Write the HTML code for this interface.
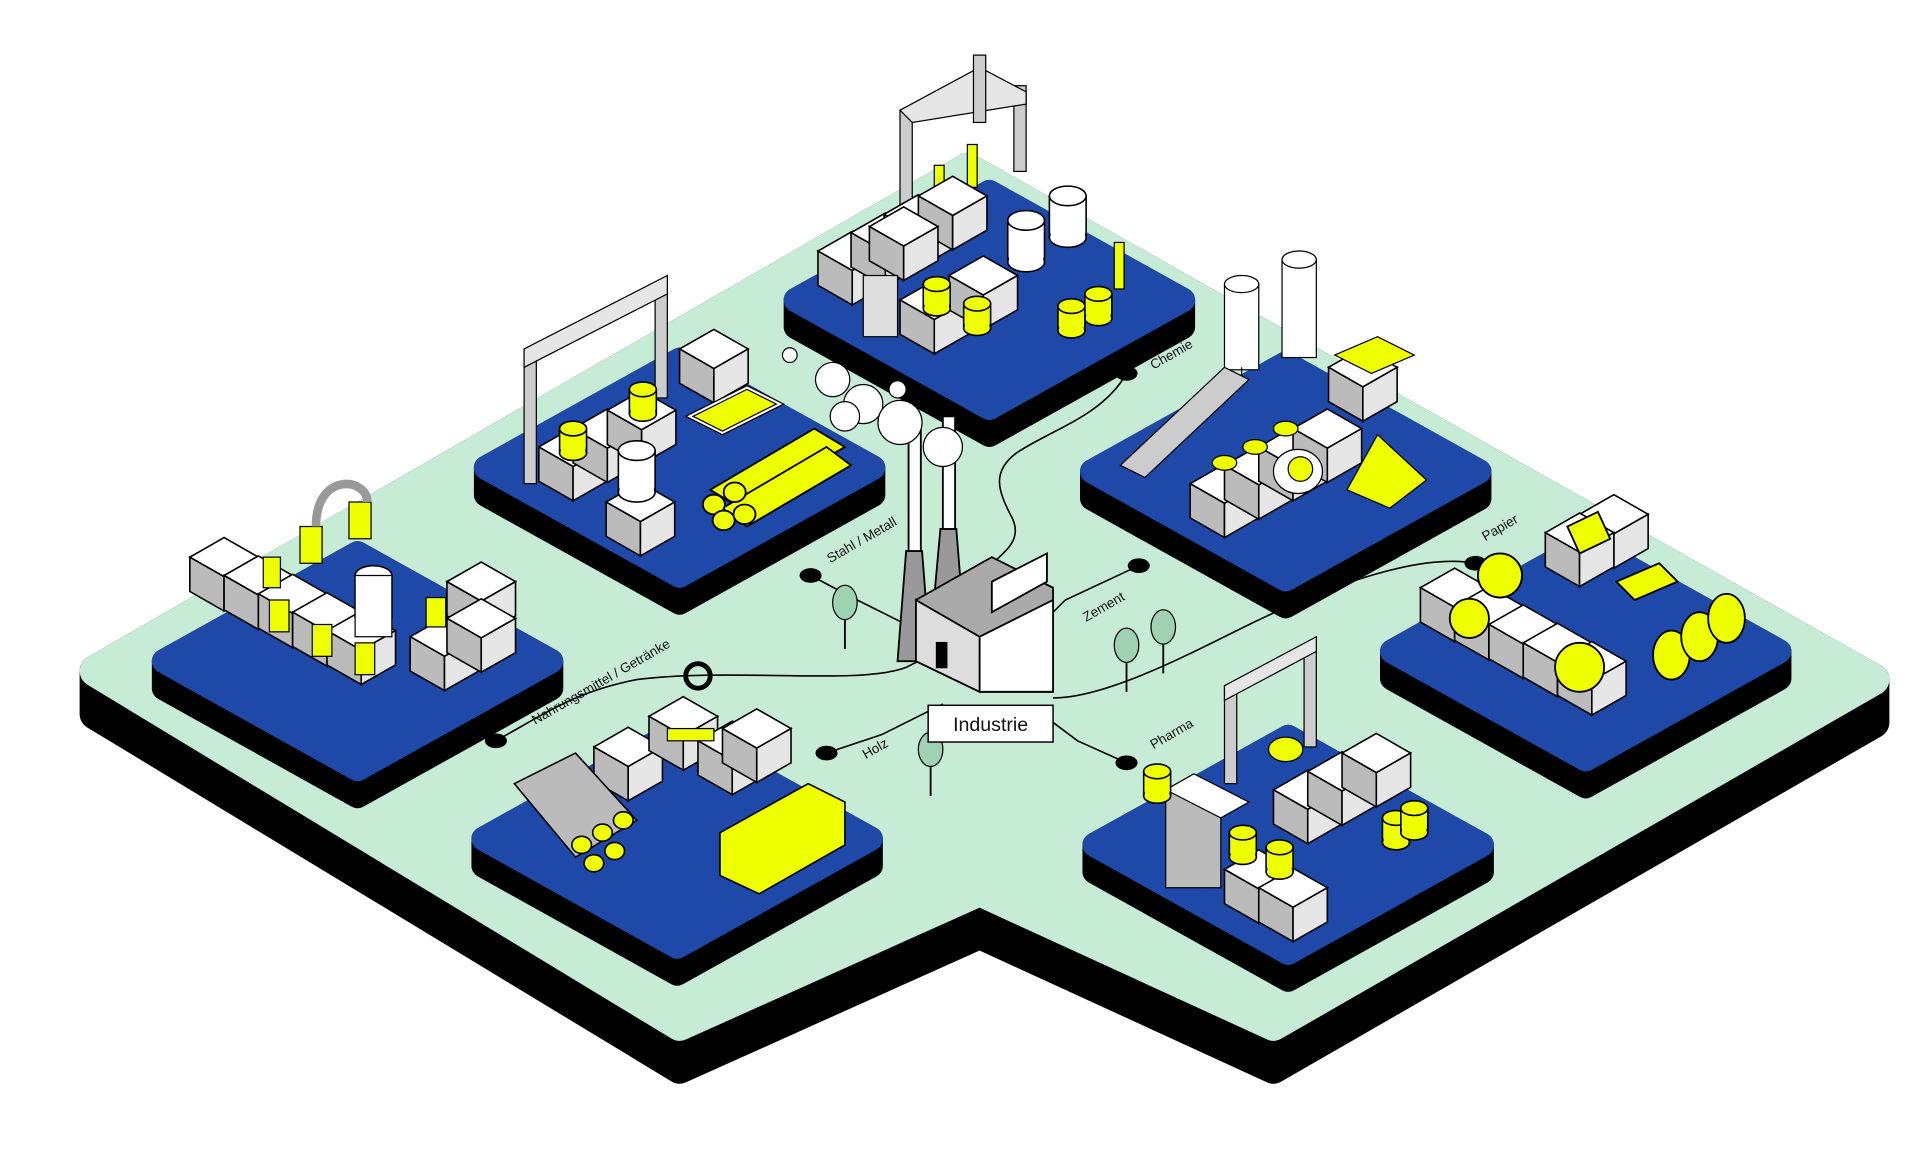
<!DOCTYPE html>
<html><head><meta charset="utf-8"><style>
html,body{margin:0;padding:0;background:#fff;width:1920px;height:1169px;overflow:hidden}
svg{display:block}
text{font-family:"Liberation Sans",sans-serif;fill:#111}
</style></head><body>
<svg width="1920" height="1169" viewBox="0 0 1568 954.7" xmlns="http://www.w3.org/2000/svg">
<defs>
<g id="tile">
 <polygon points="-158,0 0,-88 158,0 158,22 0,110 -158,22" fill="#000" stroke="#000" stroke-width="20" stroke-linejoin="round"/>
 <polygon points="-158,0 0,-88 158,0 0,88" fill="#1f49a8" stroke="#1f49a8" stroke-width="20" stroke-linejoin="round"/>
</g>
<g id="box">
 <polygon points="0,0 28,-16 56,0 28,16" fill="#fff" stroke="#000" stroke-width="1.3"/>
 <polygon points="0,0 28,16 28,44 0,28" fill="#bbb" stroke="#000" stroke-width="1.3"/>
 <polygon points="28,16 56,0 56,28 28,44" fill="#e6e6e6" stroke="#000" stroke-width="1.3"/>
</g>
<g id="cyl">
 <rect x="-15" y="0" width="30" height="34" fill="#fff" stroke="#000" stroke-width="1.3"/>
 <ellipse cx="0" cy="34" rx="15" ry="8" fill="#fff" stroke="#000" stroke-width="1.3"/>
 <rect x="-14" y="0" width="28" height="34" fill="#fff"/>
 <ellipse cx="0" cy="0" rx="15" ry="8" fill="#fff" stroke="#000" stroke-width="1.3"/>
</g>
<g id="ycyl">
 <rect x="-11" y="0" width="22" height="20" fill="#eeff00" stroke="#000" stroke-width="1.3"/>
 <ellipse cx="0" cy="20" rx="11" ry="6" fill="#eeff00" stroke="#000" stroke-width="1.3"/>
 <rect x="-10" y="0" width="20" height="20" fill="#eeff00"/>
 <ellipse cx="0" cy="0" rx="11" ry="6" fill="#eeff00" stroke="#000" stroke-width="1.3"/>
</g>
<g id="tree">
 <line x1="0" y1="0" x2="0" y2="30" stroke="#000" stroke-width="1.5"/>
 <ellipse cx="0" cy="-8" rx="10" ry="14" fill="#9fd2b0" stroke="#000" stroke-width="1"/>
</g>
</defs>

<!-- platform -->
<polygon points="78,548 790,138 1530,555 1530,590 1040,872 800,762 555,872 78,583" fill="#000" stroke="#000" stroke-width="26" stroke-linejoin="round"/>
<polygon points="78,548 790,138 1530,555 1040,837 800,727 555,837" fill="#c6ecd6" stroke="#c6ecd6" stroke-width="26" stroke-linejoin="round"/>

<!-- paths -->
<g fill="none" stroke="#000" stroke-width="1.3">
<path d="M920,305 C900,340 860,350 830,370 C810,385 815,400 825,420 C840,445 810,455 808,465"/>
<path d="M662,470 L700,490 L740,510"/>
<path d="M405,605 C450,580 470,565 520,555 C600,545 700,560 740,545 L760,535"/>
<path d="M675,615 L720,600 L770,575"/>
<path d="M920,623 L880,605 L860,590"/>
<path d="M930,462 L870,490 L855,505"/>
<path d="M1205,460 C1150,450 1060,490 1010,515 C960,540 900,570 860,570"/>
</g>
<g fill="#000">
<ellipse cx="920" cy="305" rx="9" ry="6"/><ellipse cx="662" cy="470" rx="9" ry="6"/>
<ellipse cx="405" cy="605" rx="9" ry="6"/><ellipse cx="675" cy="615" rx="9" ry="6"/>
<ellipse cx="920" cy="623" rx="9" ry="6"/><ellipse cx="930" cy="462" rx="9" ry="6"/>
<ellipse cx="1205" cy="460" rx="9" ry="6"/>
</g>

<!-- tiles -->
<use href="#tile" x="808" y="245"/>
<use href="#tile" x="555" y="382"/>
<use href="#tile" x="292" y="540"/>
<use href="#tile" x="1050" y="385"/>
<use href="#tile" x="1295" y="532"/>
<use href="#tile" x="553" y="685"/>
<use href="#tile" x="1052" y="690"/>

<!-- Chemie -->
<g>
<rect x="735" y="90" width="10" height="80" fill="#ccc" stroke="#000"/>
<rect x="828" y="70" width="10" height="70" fill="#ccc" stroke="#000"/>
<polygon points="735,90 800,55 838,75 838,85 745,100" fill="#e6e6e6" stroke="#000"/>
<rect x="795" y="45" width="10" height="55" fill="#ccc" stroke="#000"/>
<rect x="763" y="135" width="8" height="35" fill="#eeff00" stroke="#000"/><rect x="790" y="118" width="8" height="35" fill="#eeff00" stroke="#000"/>
<use href="#box" x="668" y="205"/><use href="#box" x="695" y="190"/><use href="#box" x="722" y="175"/><use href="#box" x="750" y="160"/>
<use href="#box" x="710" y="185"/>
<use href="#box" x="735" y="245"/><use href="#box" x="775" y="225"/>
<rect x="705" y="225" width="28" height="50" fill="#ddd" stroke="#000"/>
<use href="#cyl" x="838" y="180"/><use href="#cyl" x="872" y="160"/>
<use href="#ycyl" x="765" y="232"/><use href="#ycyl" x="798" y="248"/><use href="#ycyl" x="875" y="250"/><use href="#ycyl" x="897" y="240"/>
<rect x="910" y="198" width="8" height="38" fill="#eeff00" stroke="#000"/>
</g>
<!-- Stahl -->
<g>
<rect x="428" y="285" width="10" height="110" fill="#ccc" stroke="#000"/>
<rect x="535" y="235" width="10" height="90" fill="#ccc" stroke="#000"/>
<polygon points="428,285 545,225 545,240 428,300" fill="#e6e6e6" stroke="#000"/>
<use href="#box" x="440" y="365"/><use href="#box" x="468" y="350"/><use href="#box" x="496" y="335"/>
<use href="#box" x="495" y="410"/><use href="#box" x="555" y="285"/>
<polygon points="560,340 610,315 640,330 590,355" fill="#fff" stroke="#000"/>
<polygon points="566,340 610,318 634,330 590,352" fill="#eeff00" stroke="#000"/>
<use href="#cyl" x="520" y="368"/><use href="#ycyl" x="468" y="350"/><use href="#ycyl" x="525" y="318"/>
<g stroke="#000" stroke-width="1.5" fill="#eeff00">
<polygon points="580,400 665,350 690,365 605,415"/><polygon points="590,415 675,365 695,380 610,430"/>
<ellipse cx="583" cy="412" rx="9" ry="8"/><ellipse cx="600" cy="402" rx="9" ry="8"/><ellipse cx="591" cy="425" rx="9" ry="8"/><ellipse cx="608" cy="420" rx="9" ry="8"/>
</g>
</g>
<!-- Nahrung -->
<g>
<use href="#box" x="155" y="455"/><use href="#box" x="183" y="470"/><use href="#box" x="211" y="485"/><use href="#box" x="239" y="500"/><use href="#box" x="267" y="515"/>
<use href="#box" x="335" y="520"/><use href="#box" x="365" y="475"/><use href="#box" x="365" y="505"/>
<use href="#cyl" x="305" y="470"/><rect x="290" y="470" width="30" height="50" fill="#fff" stroke="#000"/>
<g fill="#eeff00" stroke="#000"><rect x="245" y="430" width="18" height="30"/><rect x="285" y="410" width="18" height="30"/>
<rect x="220" y="490" width="16" height="26"/><rect x="255" y="510" width="16" height="26"/><rect x="290" y="525" width="16" height="26"/><rect x="348" y="488" width="16" height="24"/><rect x="215" y="455" width="14" height="25"/></g>
<path d="M258,430 C258,385 300,390 300,410" fill="none" stroke="#999" stroke-width="7"/>
</g>
<!-- Zement -->
<g>
<rect x="1000" y="232" width="28" height="70" fill="#fff" stroke="#000"/><ellipse cx="1014" cy="232" rx="14" ry="7" fill="#fff" stroke="#000"/>
<rect x="1047" y="212" width="28" height="80" fill="#fff" stroke="#000"/><ellipse cx="1061" cy="212" rx="14" ry="7" fill="#fff" stroke="#000"/>
<line x1="1014" y1="300" x2="1014" y2="310" stroke="#000"/>
<polygon points="915,380 1000,300 1020,310 935,390" fill="#ccc" stroke="#000"/>
<use href="#box" x="972" y="395"/><use href="#box" x="1000" y="380"/><use href="#box" x="1028" y="365"/><use href="#box" x="1056" y="350"/>
<use href="#box" x="1085" y="300"/>
<polygon points="1090,290 1125,275 1155,290 1120,305" fill="#eeff00" stroke="#000"/>
<polygon points="1100,400 1125,355 1165,392 1135,415" fill="#eeff00" stroke="#000"/>
<ellipse cx="1060" cy="385" rx="20" ry="18" fill="#fff" stroke="#000"/><ellipse cx="1062" cy="383" rx="10" ry="10" fill="#eeff00" stroke="#000"/>
<ellipse cx="1000" cy="378" rx="10" ry="6" fill="#eeff00" stroke="#000"/><ellipse cx="1025" cy="365" rx="10" ry="6" fill="#eeff00" stroke="#000"/><ellipse cx="1050" cy="350" rx="10" ry="6" fill="#eeff00" stroke="#000"/>
</g>
<!-- Papier -->
<g>
<use href="#box" x="1160" y="480"/><use href="#box" x="1188" y="495"/><use href="#box" x="1216" y="510"/><use href="#box" x="1244" y="525"/><use href="#box" x="1272" y="540"/>
<use href="#box" x="1290" y="420"/><use href="#box" x="1262" y="435"/>
<g fill="#eeff00" stroke="#000" stroke-width="1.5">
<ellipse cx="1225" cy="470" rx="18" ry="18"/><ellipse cx="1200" cy="505" rx="16" ry="16"/><ellipse cx="1290" cy="545" rx="20" ry="20"/>
<ellipse cx="1365" cy="535" rx="15" ry="20"/><ellipse cx="1388" cy="520" rx="15" ry="20"/><ellipse cx="1410" cy="505" rx="15" ry="20"/>
<polygon points="1320,475 1355,460 1370,475 1335,490"/>
<polygon points="1280,430 1305,418 1315,440 1290,452"/>
</g>
</g>
<!-- Holz -->
<g>
<use href="#box" x="485" y="610"/><use href="#box" x="530" y="585"/><use href="#box" x="570" y="605"/><use href="#box" x="590" y="595"/>
<rect x="545" y="595" width="38" height="10" fill="#eeff00" stroke="#000"/>
<ellipse cx="570" cy="552" rx="10" ry="10" fill="none" stroke="#000" stroke-width="4"/>
<g stroke="#000" stroke-width="1.3">
<polygon points="420,640 470,615 520,670 470,700" fill="#bbb"/>
<ellipse cx="475" cy="690" rx="8" ry="7" fill="#eeff00"/><ellipse cx="492" cy="680" rx="8" ry="7" fill="#eeff00"/><ellipse cx="509" cy="670" rx="8" ry="7" fill="#eeff00"/><ellipse cx="485" cy="705" rx="8" ry="7" fill="#eeff00"/><ellipse cx="502" cy="695" rx="8" ry="7" fill="#eeff00"/>
<polygon points="588,680 660,640 690,655 690,690 620,730 588,715" fill="#eeff00"/>
</g>
</g>
<!-- Pharma -->
<g>
<rect x="1000" y="560" width="10" height="80" fill="#ccc" stroke="#000"/><rect x="1065" y="530" width="10" height="80" fill="#ccc" stroke="#000"/>
<polygon points="1000,560 1075,520 1075,532 1000,572" fill="#e6e6e6" stroke="#000"/>
<use href="#box" x="1040" y="645"/><use href="#box" x="1068" y="630"/><use href="#box" x="1096" y="615"/>
<use href="#box" x="1000" y="710"/><use href="#box" x="1028" y="725"/>
<rect x="952" y="645" width="45" height="80" fill="#bbb" stroke="#000"/><polygon points="952,645 975,632 1020,655 997,668" fill="#fff" stroke="#000"/>
<ellipse cx="1050" cy="612" rx="14" ry="10" fill="#eeff00" stroke="#000"/>
<use href="#ycyl" x="1015" y="680"/><use href="#ycyl" x="1045" y="692"/><use href="#ycyl" x="1140" y="668"/><use href="#ycyl" x="1155" y="660"/><use href="#ycyl" x="945" y="630"/>
</g>

<!-- factory center -->
<g stroke="#000" stroke-width="1.5">
<polygon points="740,450 753,450 760,540 733,540" fill="#999"/>
<polygon points="768,432 781,432 788,520 760,520" fill="#999"/>
<rect x="742" y="350" width="10" height="100" fill="#fff"/><rect x="770" y="340" width="10" height="92" fill="#fff"/>
<polygon points="748,490 810,455 860,480 860,565 800,565 748,540" fill="#aaa"/>
<polygon points="800,520 860,490 860,565 800,565" fill="#fff"/>
<polygon points="748,490 800,520 800,565 748,540" fill="#ddd"/>
<rect x="765" y="525" width="8" height="20" fill="#000"/>
<polygon points="810,475 855,452 855,475 810,500" fill="#fff"/>
</g>
<g fill="#fff" stroke="#000" stroke-width="1">
<circle cx="645" cy="290" r="6"/><circle cx="733" cy="318" r="7"/>
<circle cx="680" cy="310" r="14"/><circle cx="705" cy="330" r="16"/><circle cx="735" cy="345" r="18"/><circle cx="770" cy="365" r="16"/><circle cx="690" cy="340" r="12"/>
</g>
<use href="#tree" x="690" y="500"/><use href="#tree" x="760" y="620"/><use href="#tree" x="920" y="535"/><use href="#tree" x="950" y="520"/>

<!-- Industrie label -->
<rect x="758" y="576" width="102" height="30" fill="#fff" stroke="#000" stroke-width="1.2"/>
<text x="809" y="597" font-size="16" text-anchor="middle">Industrie</text>

<g font-size="11">
<text transform="translate(942,302) rotate(-30)">Chemie</text>
<text transform="translate(678,460) rotate(-30)">Stahl / Metall</text>
<text transform="translate(437,592) rotate(-30)">Nahrungsmittel / Getränke</text>
<text transform="translate(707,620) rotate(-30)">Holz</text>
<text transform="translate(887,508) rotate(-30)">Zement</text>
<text transform="translate(1213,442) rotate(-30)">Papier</text>
<text transform="translate(942,612) rotate(-30)">Pharma</text>
</g>
</svg>
</body></html>
